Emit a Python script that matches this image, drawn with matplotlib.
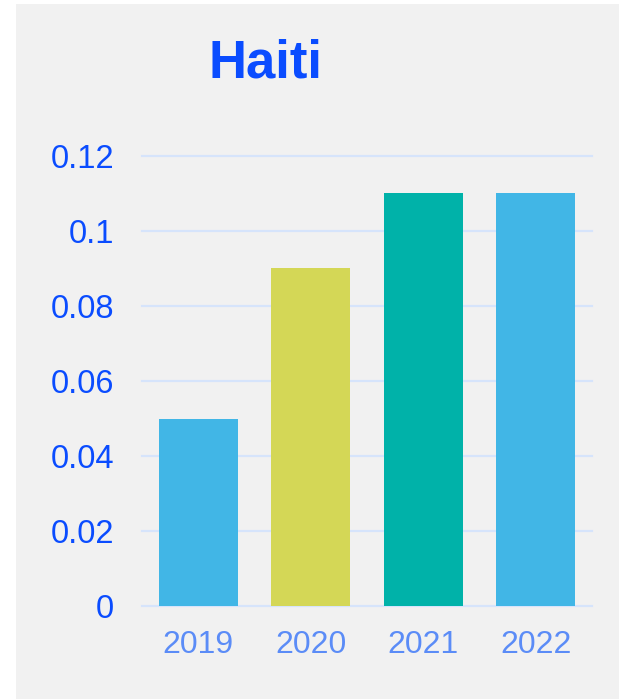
import matplotlib
matplotlib.use("Agg")
import matplotlib.pyplot as plt
from matplotlib.patches import Rectangle

years = ["2019", "2020", "2021", "2022"]
values = [0.05, 0.09, 0.11, 0.11]
colors = ["#41b6e6", "#d4d756", "#00b2a9", "#41b6e6"]
yticks = [0, 0.02, 0.04, 0.06, 0.08, 0.1, 0.12]
ytick_labels = ["0", "0.02", "0.04", "0.06", "0.08", "0.1", "0.12"]

plt.rcParams['font.family'] = ['Liberation Sans', 'DejaVu Sans']
W, H = 619, 699
fig = plt.figure(figsize=(W/100, H/100), dpi=100, facecolor="white")
bg = Rectangle((16/W, 0), 1 - 16/W, 1 - 4/H, transform=fig.transFigure,
               facecolor="#f1f1f1", edgecolor="none", zorder=-10)
fig.patches.append(bg)

ax = fig.add_axes([142/W, 1 - 606/H, 450/W, 450/H])
ax.set_zorder(1)
ax.set_facecolor("none")
x = range(len(years))
ax.bar(x, values, width=0.70, color=colors, zorder=3)
ax.set_xlim(-0.5, 3.5)
ax.set_ylim(0, 0.12)
ax.set_yticks(yticks)
ax.set_yticklabels(ytick_labels)
ax.set_xticks(list(x))
ax.set_xticklabels(years)
ax.grid(axis="y", color="#d6e4fb", linewidth=1.6, zorder=0)
ax.set_axisbelow(True)
for s in ax.spines.values():
    s.set_visible(False)
ax.tick_params(axis="y", length=0, pad=20, labelsize=23.5, labelcolor="#0a4cff")
ax.tick_params(axis="x", length=0, pad=17, labelsize=23, labelcolor="#5b8cf7")
for gl in ax.get_ygridlines():
    gl.set_clip_on(False)

fig.text(265/W, 1 - 64/H, "Haiti", ha="center", va="center", fontsize=38,
         fontweight="bold", color="#0a4cff")

fig.savefig("out.png", dpi=100)
